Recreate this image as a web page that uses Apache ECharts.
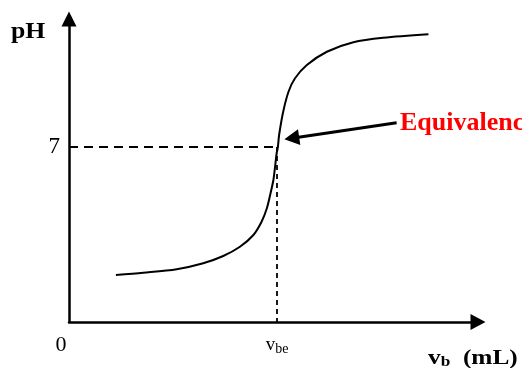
<!DOCTYPE html>
<html>
<head>
<meta charset="utf-8">
<script src="https://cdn.jsdelivr.net/npm/echarts@6/dist/echarts.min.js"></script>
<style>
  html, body { margin: 0; padding: 0; background: #fff; }
  #chart { width: 522px; height: 368px; }
</style>
</head>
<body>
<div id="chart"></div>
<script>
// titration curve (x: volume units, y: pH scale)
const curveX = [11.5, 18.2, 26.4, 32.9, 37.8, 41.9, 45.2, 47.2, 48.5, 49.3, 50.1, 50.5, 50.9, 51.2, 51.5, 52.5, 53.8, 55.4, 58.3, 63.2, 69.7, 77.0, 88.1];
const curveY = [1.88, 1.97, 2.11, 2.35, 2.64, 3.01, 3.48, 4.01, 4.55, 5.08, 5.68, 6.20, 6.75, 7.00, 7.48, 8.41, 9.21, 9.75, 10.28, 10.81, 11.19, 11.37, 11.51];
const vbe = 51.0;
const phEq = 7;
const arrowFrom = [80.3, 7.97];
const arrowTo = [54.6, 7.35];
const xMax = 100.25;
const yMax = 12.12;

const serif = 'Liberation Serif';
const chart = echarts.init(document.getElementById('chart'));

const option = {
    backgroundColor: '#fff',
    animation: false,
    grid: { left: 69, right: 44, top: 19, bottom: 46 },
    xAxis: {
        type: 'value',
        min: 0,
        max: xMax,
        axisLine: {
            show: true,
            onZero: false,
            symbol: ['none', 'triangle'],
            symbolSize: [16, 15],
            lineStyle: { color: '#000', width: 2.5 }
        },
        axisTick: { show: false },
        splitLine: { show: false },
        axisLabel: {
            customValues: [0, vbe],
            margin: 12,
            formatter: function (v) {
                return v === 0 ? '{z|0}' : '{v|v}{s|be}';
            },
            rich: {
                z: { fontFamily: serif, fontSize: 22, color: '#000', padding: [0, 16, 0, 0] },
                v: { fontFamily: serif, fontSize: 19, color: '#000' },
                s: { fontFamily: serif, fontSize: 14, color: '#000', padding: [8, 0, 0, 0] }
            }
        }
    },
    yAxis: {
        type: 'value',
        min: 0,
        max: yMax,
        axisLine: {
            show: true,
            onZero: false,
            symbol: ['none', 'triangle'],
            symbolSize: [15, 15],
            lineStyle: { color: '#000', width: 2.5 }
        },
        axisTick: { show: false },
        splitLine: { show: false },
        axisLabel: {
            customValues: [phEq],
            margin: 9,
            fontFamily: serif,
            fontSize: 23,
            color: '#000'
        }
    },
    series: [
        {
            type: 'line',
            data: curveX.map((x, i) => [x, curveY[i]]),
            smooth: 0.3,
            showSymbol: false,
            lineStyle: { color: '#000', width: 2 },
            z: 3
        },
        {
            type: 'line',
            data: [],
            markLine: {
                silent: true,
                animation: false,
                label: { show: false },
                data: [
                    [
                        { coord: [0, phEq], symbol: 'none', lineStyle: { type: [9, 6], width: 1.8, color: '#000' } },
                        { coord: [vbe, phEq], symbol: 'none' }
                    ],
                    [
                        { coord: [vbe, phEq], symbol: 'none', lineStyle: { type: [5, 4], width: 1.8, color: '#000' } },
                        { coord: [vbe, 0], symbol: 'none' }
                    ],
                    [
                        { coord: arrowFrom, symbol: 'none', lineStyle: { type: 'solid', width: 3, color: '#000' } },
                        { coord: arrowTo, symbol: 'triangle', symbolSize: [16, 15] }
                    ]
                ]
            }
        }
    ],
    graphic: [
        {
            type: 'text', left: 11, top: 21, scaleX: 1.12,
            style: { text: 'pH', font: 'bold 23px "Liberation Serif"', fill: '#000' }
        },
        {
            type: 'text', left: 400, top: 110,
            style: { text: 'Equivalence point', font: 'bold 26px "Liberation Serif"', fill: '#ff0000' }
        },
        {
            type: 'text', left: 428, top: 347, scaleX: 1.15,
            style: {
                text: '{v|v}{s|b}{u|  (mL)}',
                rich: {
                    v: { font: 'bold 22px "Liberation Serif"', fill: '#000' },
                    s: { font: 'bold 15px "Liberation Serif"', fill: '#000', padding: [8, 0, 0, 0] },
                    u: { font: 'bold 22px "Liberation Serif"', fill: '#000' }
                }
            }
        }
    ]
};

chart.setOption(option);
</script>
</body>
</html>
